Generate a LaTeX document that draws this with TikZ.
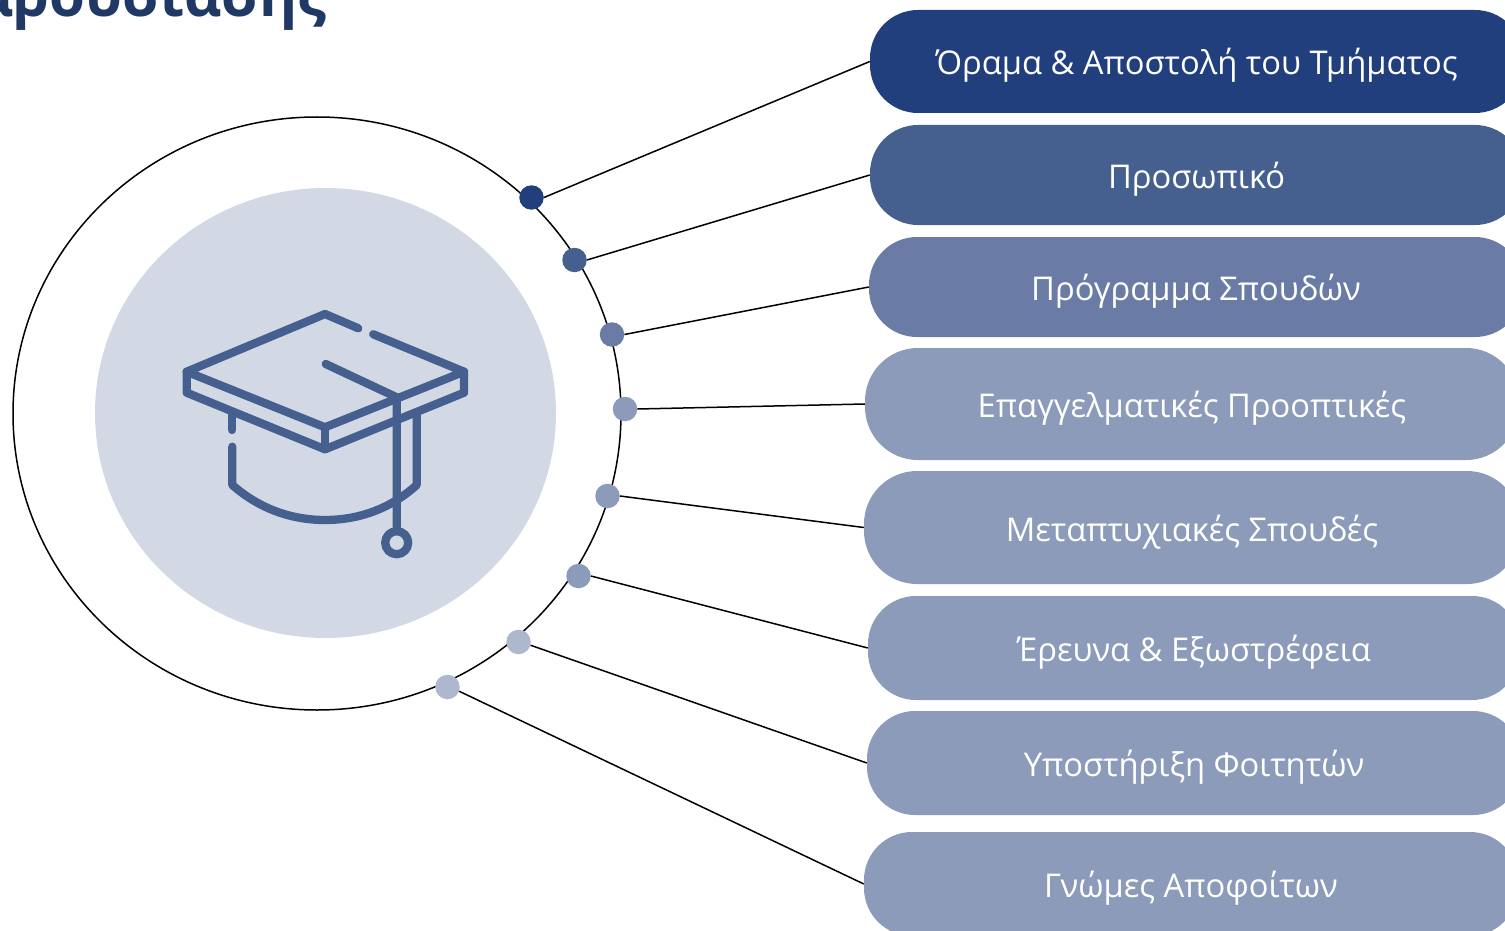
\documentclass[tikz,border=0pt]{standalone}
\usepackage{fontspec}
\setmainfont{Open Sans}
\usetikzlibrary{shapes.geometric}
\definecolor{cA}{HTML}{203F7C}
\definecolor{cB}{HTML}{45608F}
\definecolor{cC}{HTML}{6A7CA6}
\definecolor{cD}{HTML}{8C9BBA}
\definecolor{cE}{HTML}{ADB8CF}
\definecolor{cF}{HTML}{D3D8E5}
\definecolor{cT}{HTML}{1F3864}
\tikzset{
  pill/.style={rectangle,rounded corners=48pt,inner sep=0pt,text=white,
    font=\fontsize{32.7}{36}\selectfont,text height=28pt,text depth=1pt,align=center},
  bigpill/.style={pill,rounded corners=53pt},
  dot/.style={circle,inner sep=0pt,minimum size=24.5pt},
  conn/.style={draw=black,line width=1.5pt},
  hat/.style={draw=cB,line width=8.3pt,line cap=round,line join=round}
}
\begin{document}
\begin{tikzpicture}[x=1pt,y=-1pt]
\useasboundingbox (0,0) rectangle (1505,931);
\clip (0,0) rectangle (1505,931);
\node[ellipse,draw=black,line width=1.5pt,minimum width=608pt,minimum height=593pt,inner sep=0pt] (outer) at (317,413.5) {};
\node[ellipse,fill=cF,minimum width=461pt,minimum height=450pt,inner sep=0pt] (inner) at (325.5,413) {};
\node[font=\bfseries\fontsize{58}{60}\selectfont,text=cT,anchor=base east,inner sep=0pt] (title) at (327,17) {Παρουσίασης};
% pills
\node[pill,fill=cA,minimum width=653pt,minimum height=103pt] (p1) at (1196.5,61.5) {Όραμα \& Αποστολή του Τμήματος};
\node[pill,fill=cB,minimum width=653pt,minimum height=100pt] (p2) at (1196.5,175) {Προσωπικό};
\node[pill,fill=cC,minimum width=654pt,minimum height=100pt] (p3) at (1196,287) {Πρόγραμμα Σπουδών};
\node[bigpill,fill=cD,minimum width=654pt,minimum height=112pt] (p4) at (1192,404) {Επαγγελματικές Προοπτικές};
\node[bigpill,fill=cD,minimum width=656pt,minimum height=113pt] (p5) at (1192,527.5) {Μεταπτυχιακές Σπουδές};
\node[pill,fill=cD,minimum width=652pt,minimum height=104pt] (p6) at (1194,648) {Έρευνα \& Εξωστρέφεια};
\node[pill,fill=cD,minimum width=654pt,minimum height=104pt] (p7) at (1194,763) {Υποστήριξη Φοιτητών};
\node[pill,fill=cD,minimum width=654pt,minimum height=104pt] (p8) at (1191,884) {Γνώμες Αποφοίτων};
% dots
\node[dot,fill=cA] (d1) at (531.5,197.5) {};
\node[dot,fill=cB] (d2) at (574.5,260) {};
\node[dot,fill=cC] (d3) at (612,334.5) {};
\node[dot,fill=cD] (d4) at (625,409) {};
\node[dot,fill=cD] (d5) at (607.5,496) {};
\node[dot,fill=cD] (d6) at (578.5,576) {};
\node[dot,fill=cE] (d7) at (518.5,642) {};
\node[dot,fill=cE] (d8) at (447.5,687) {};
% connectors
\foreach \i in {1,...,6} {\draw[conn] (d\i.east) -- (p\i.west);}
\draw[conn] (d7.-15) -- (p7.west);
\draw[conn] (d8.-20) -- (p8.west);
% graduation cap
\draw[hat] (358.3,328.3) -- (325,314) -- (186.7,371.7) -- (325,427.3) -- (464,371.7) -- (373.3,334.3);
\draw[hat] (186.7,371.7) -- (186.7,392.7) -- (325,449.3) -- (464,392.7) -- (464,371.7);
\draw[hat] (325,427.3) -- (325,449.3);
\draw[hat] (232.3,415) -- (232.3,430);
\draw[hat] (232.3,446.7) -- (232.3,485) .. controls (262,511) and (295,520) .. (325,520) .. controls (355,520) and (388,511) .. (416.7,485) -- (416.7,413.3);
\draw[hat] (325.7,364) -- (396.7,397.3) -- (396.7,531);
\draw[hat] (396.7,542.7) circle[radius=11.5pt];
\end{tikzpicture}
\end{document}
